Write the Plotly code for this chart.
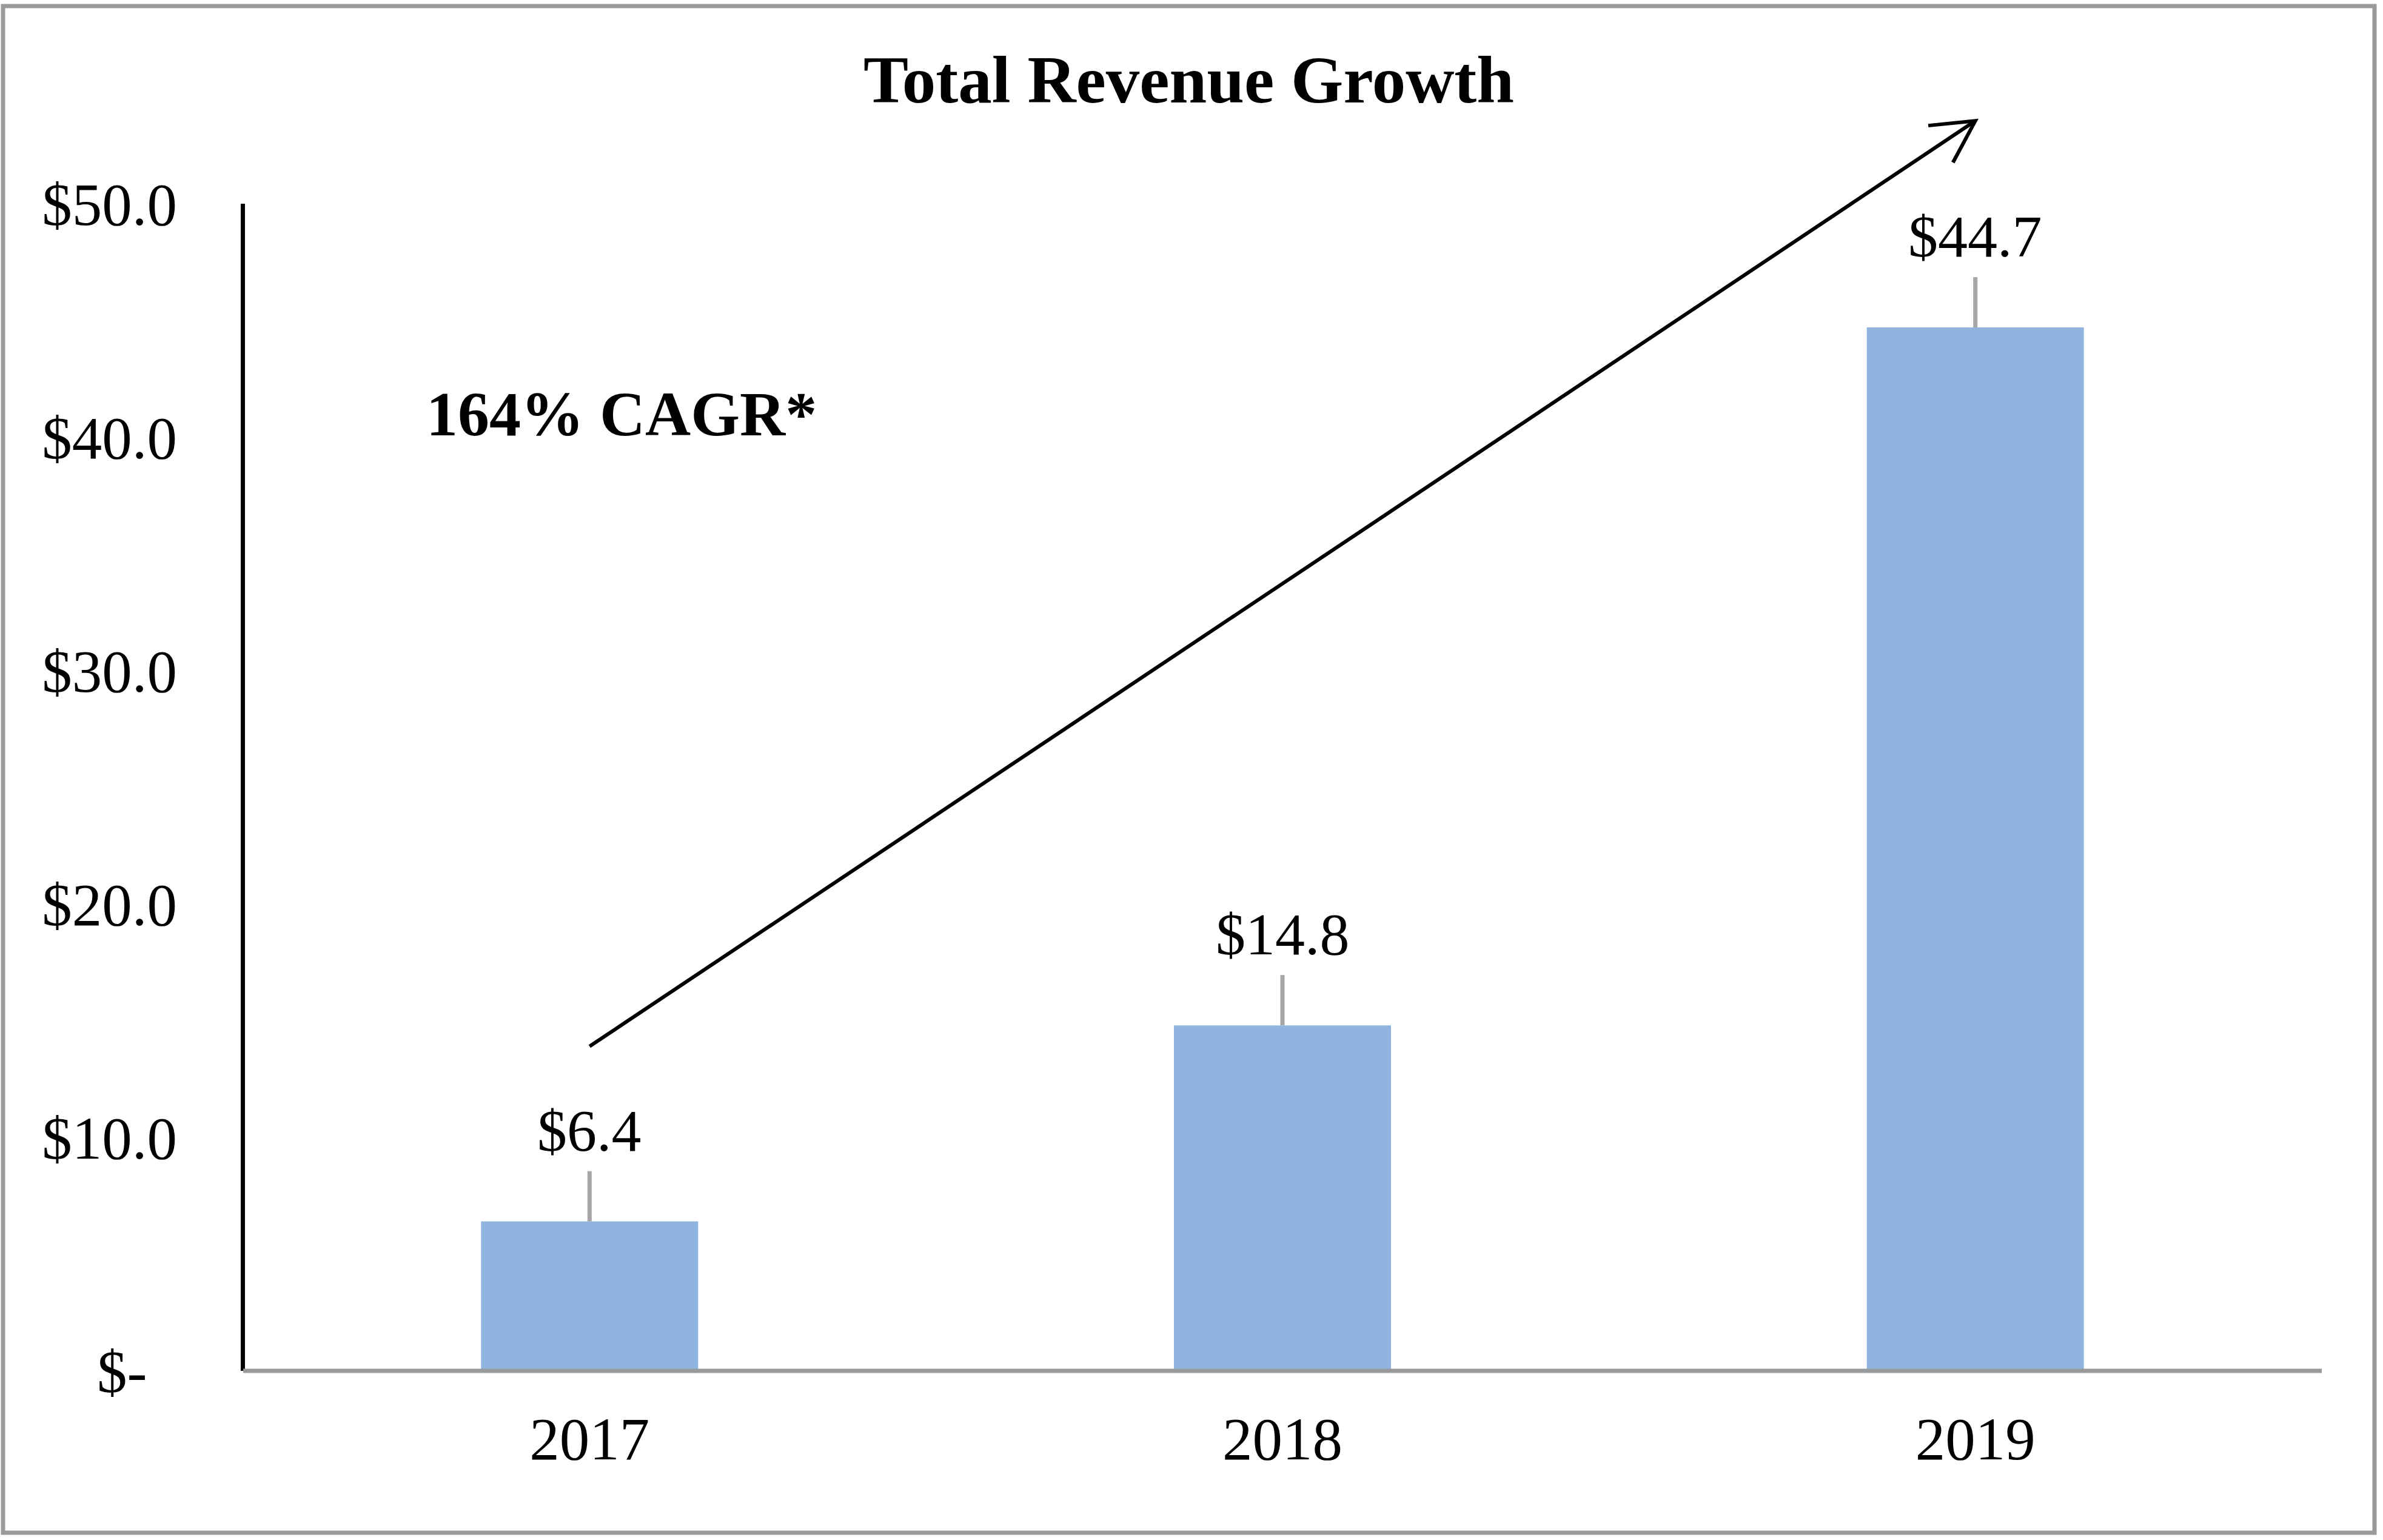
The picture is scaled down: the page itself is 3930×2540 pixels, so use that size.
import math
import plotly.graph_objects as go

# ---------------- data ----------------
years = ["2017", "2018", "2019"]
revenue = [6.4, 14.8, 44.7]
y_ticks = [0, 10, 20, 30, 40, 50]
title_text = "Total Revenue Growth"
cagr_text = "164% CAGR*"

# ---------------- layout constants (pixels) ----------------
W, H = 3930, 2540
L, R, T, B = 401, 3829, 105, 2261
YMAX = 56.0
XMIN, XMAX = -0.5, len(years) - 0.5
px_per_y = (B - T) / YMAX
px_per_x = (R - L) / (XMAX - XMIN)

FONT = "Liberation Serif"
BAR_COLOR = "#8FB4DF"
GRAY = "#999A9C"
LEADER_GRAY = "#A6A6A6"


def paper(xpx, ypx):
    return (xpx - L) / (R - L), (B - ypx) / (B - T)


def tick_label(v):
    return "$-\u00a0\u00a0" if v == 0 else f"${v:.1f}"


fig = go.Figure()
x_idx = list(range(len(years)))
fig.add_trace(go.Bar(
    x=x_idx, y=revenue,
    marker=dict(color=BAR_COLOR, line=dict(width=0)),
    hoverinfo="skip",
))

shapes = []
annotations = []

# frame around the whole picture
bx0, by0 = paper(5, 2528)
bx1, by1 = paper(3916, 10)
shapes.append(dict(type="rect", xref="paper", yref="paper", x0=bx0, y0=by0, x1=bx1, y1=by1,
                   line=dict(color=GRAY, width=7), fillcolor="rgba(0,0,0,0)", layer="below"))

# y axis line (stops at 50)
yx, _ = paper(400.5, 0)
shapes.append(dict(type="line", xref="paper", yref="paper", x0=yx, x1=yx, y0=0, y1=max(y_ticks) / YMAX,
                   line=dict(color="black", width=7), layer="above"))
# x axis line
shapes.append(dict(type="line", xref="paper", yref="paper", x0=0, x1=1, y0=0, y1=0,
                   line=dict(color=GRAY, width=7), layer="above"))

# data labels with leader lines
LEADER_PX = 83
LABEL_PX = 150
for i, v in enumerate(revenue):
    shapes.append(dict(type="line", xref="x", yref="y", x0=i, x1=i, y0=v, y1=v + LEADER_PX / px_per_y,
                       line=dict(color=LEADER_GRAY, width=7)))
    annotations.append(dict(x=i, y=v, xref="x", yref="y", text=f"${v:.1f}", showarrow=False,
                            xanchor="center", yanchor="middle", yshift=LABEL_PX,
                            font=dict(family=FONT, size=98, color="black")))

# growth arrow (from first category to last)
a0 = (0, 13.9)
a1 = (len(years) - 1, 53.55)
shapes.append(dict(type="line", xref="x", yref="y", x0=a0[0], y0=a0[1], x1=a1[0], y1=a1[1],
                   line=dict(color="black", width=6)))
# arrow head (open chevron) computed in pixel space
dxp = (a1[0] - a0[0]) * px_per_x
dyp = (a1[1] - a0[1]) * px_per_y
ang = math.atan2(dyp, dxp)
HEAD_LEN, HEAD_ANG = 78, math.radians(28)
pts = []
for s in (1, -1):
    a = ang + math.pi + s * HEAD_ANG
    pts.append((a1[0] + HEAD_LEN * math.cos(a) / px_per_x, a1[1] + HEAD_LEN * math.sin(a) / px_per_y))
path = f"M{pts[0][0]},{pts[0][1]} L{a1[0]},{a1[1]} L{pts[1][0]},{pts[1][1]}"
shapes.append(dict(type="path", xref="x", yref="y", path=path, line=dict(color="black", width=6)))

# title and CAGR text
tx, ty = paper(1960, 131)
annotations.append(dict(x=tx, y=ty, xref="paper", yref="paper", text=title_text, showarrow=False,
                        xanchor="center", yanchor="middle",
                        font=dict(family=FONT, size=111, color="black", weight="bold")))
cx, cy = paper(1025, 682)
annotations.append(dict(x=cx, y=cy, xref="paper", yref="paper", text=cagr_text, showarrow=False,
                        xanchor="center", yanchor="middle",
                        font=dict(family=FONT, size=104, color="black", weight="bold")))

fig.update_layout(
    width=W, height=H,
    margin=dict(l=L, r=W - R, t=T, b=H - B, pad=0),
    paper_bgcolor="white", plot_bgcolor="white",
    showlegend=False,
    bargap=1 - 358 / px_per_x,
    shapes=shapes, annotations=annotations,
    xaxis=dict(range=[XMIN, XMAX], tickvals=x_idx, ticktext=years, showgrid=False, zeroline=False,
               showline=False, ticks="", ticklabelstandoff=46,
               tickfont=dict(family=FONT, size=99, color="black"), fixedrange=True),
    yaxis=dict(range=[0, YMAX], tickvals=y_ticks, ticktext=[tick_label(v) for v in y_ticks],
               showgrid=False, zeroline=False, showline=False, ticks="", ticklabelstandoff=108,
               tickfont=dict(family=FONT, size=99, color="black"), fixedrange=True),
)

fig.write_html("out.html", config={"displayModeBar": False},
               post_script="document.body.style.margin='0';document.body.style.overflow='hidden';")
